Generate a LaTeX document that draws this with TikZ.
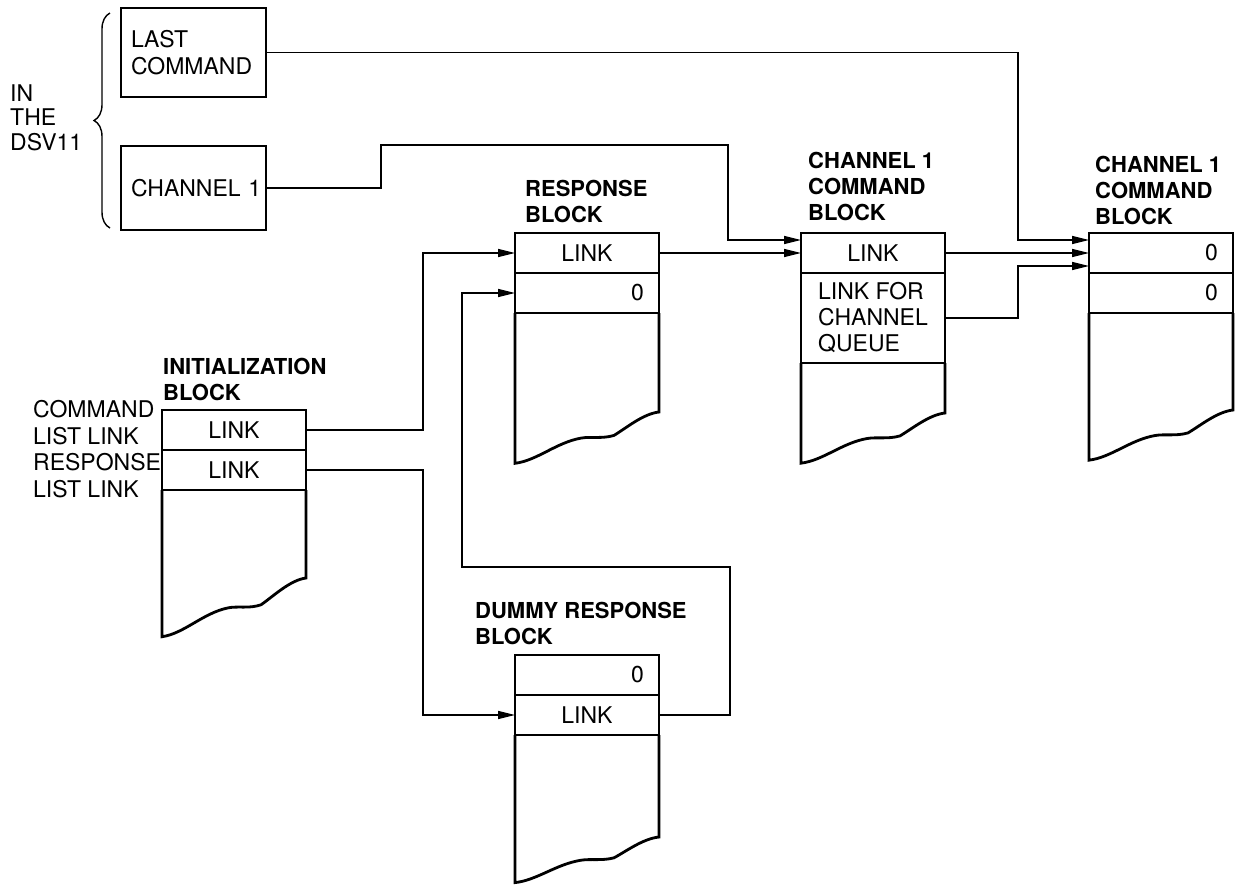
\documentclass[tikz,border=0pt]{standalone}
\usepackage{fontspec}
\setmainfont{TeX Gyre Heros}
\usetikzlibrary{arrows.meta,decorations.pathreplacing,calc}

\newcommand\rowfont{\fontsize{23}{26}\selectfont}
\newcommand\headfont{\fontsize{22}{26}\selectfont\bfseries}

\tikzset{
  boxline/.style={line width=2.8pt},
  row/.style={draw, boxline, minimum width=144pt, minimum height=40pt,
              inner sep=0pt, outer sep=0pt, font=\rowfont},
  zero/.style={row, text width=114pt, align=right},
  reg/.style={draw, boxline, minimum width=145pt, text width=125pt,
              align=left, inner sep=0pt, outer sep=0pt,
              font=\fontsize{23}{27}\selectfont},
  head/.style={anchor=south west, inner sep=0pt, align=left, font=\headfont},
  note/.style={anchor=south west, inner sep=0pt, align=left},
  conn/.style={line width=1.5pt},
  arr/.style={conn, -{Triangle[length=17pt,width=8pt]}},
  % lower part of a block, hanging below its last row: #1 = depth of the
  % right edge, #2 = vertical scale of the ragged bottom edge
  pics/body/.style 2 args={code={
    \draw[boxline] (0,0) -- (0,#1)
      .. controls +(-16,2*#2) and +(12,-8*#2) .. ++(-45,26*#2)
      .. controls +(-12,4*#2) and +(10,-2*#2) .. ++(-33,3*#2)
      .. controls +(-25,5*#2) and +(22,-3*#2) .. ++(-66,28*#2)
      -- (-144,0);
  }},
}

\begin{document}
\begin{tikzpicture}[x=1pt, y=-1pt]
\useasboundingbox (0,0) rectangle (1238,884);

% registers in the DSV11
\node[reg, minimum height=89pt] (last) at (193.5,52.5) {LAST\\COMMAND};
\node[reg, minimum height=84pt] (ch1) at (193.5,188) {\mbox{CHANNEL 1}};
\draw[line width=1.4pt, decorate, decoration={brace, amplitude=16pt}]
  (110,228) -- (110,13);
\node[note, font=\fontsize{23}{24.5}\selectfont] (dsv) at (10,151) {IN\\THE\\DSV11};

% initialization block
\node[head] (inT) at (163,401) {INITIALIZATION\\BLOCK};
\node[row] (in0) at (234,430) {LINK};
\node[row] (in1) at (234,470) {LINK};
\pic at (in1.south east) {body={88}{1.03}};
\node[note, font=\fontsize{23}{26.5}\selectfont] (inL) at (33,498)
  {COMMAND\\LIST LINK\\RESPONSE\\LIST LINK};

% response block
\node[head] (rsT) at (525,223) {RESPONSE\\BLOCK};
\node[row] (rs0) at (587,253) {LINK};
\node[zero] (rs1) at (587,293) {0};
\pic at (rs1.south east) {body={99}{0.9}};

% channel 1 command block (middle)
\node[head] (mbT) at (808,221) {CHANNEL 1\\COMMAND\\BLOCK};
\node[row] (mb0) at (873,253) {LINK};
\node[row, minimum height=90pt, align=left] (mb1) at (873,318)
  {LINK FOR\\CHANNEL\\QUEUE};
\pic at (mb1.south east) {body={50}{0.88}};

% channel 1 command block (right)
\node[head] (rbT) at (1095,225) {CHANNEL 1\\COMMAND\\BLOCK};
\node[zero] (rb0) at (1161,253) {0};
\node[zero] (rb1) at (1161,293) {0};
\pic at (rb1.south east) {body={97}{0.88}};

% dummy response block
\node[head] (dmT) at (475,645) {DUMMY RESPONSE\\BLOCK};
\node[zero] (dm0) at (587,675) {0};
\node[row] (dm1) at (587,715) {LINK};
\pic at (dm1.south east) {body={102}{0.8}};

% connector end points and bends
\coordinate (rbA) at ([yshift=13pt]rb0.west);
\coordinate (rbC) at ([yshift=-13pt]rb0.west);
\coordinate (mbA) at ([yshift=13pt]mb0.west);
\coordinate (busC) at (1018,0);
\coordinate (busI) at (423,0);
\coordinate (jogA) at (381,145);
\coordinate (jogB) at (728,145);
\coordinate (loopR) at (730,567);
\coordinate (loopL) at (462,567);

% links
\draw[arr] (last.east) -| (busC |- rbA) -- (rbA);
\draw[arr] (mb0.east) -- (rb0.west);
\draw[arr] (mb1.east) -| (busC |- rbC) -- (rbC);
\draw[arr] (ch1.east) -| (jogA) -- (jogB) |- (mbA);
\draw[arr] (rs0.east) -- (mb0.west);
\draw[arr] (in0.east) -| (busI |- rs0.west) -- (rs0.west);
\draw[arr] (in1.east) -| (busI |- dm1.west) -- (dm1.west);
\draw[arr] (dm1.east) -| (loopR) -- (loopL) |- (rs1.west);
\end{tikzpicture}
\end{document}
